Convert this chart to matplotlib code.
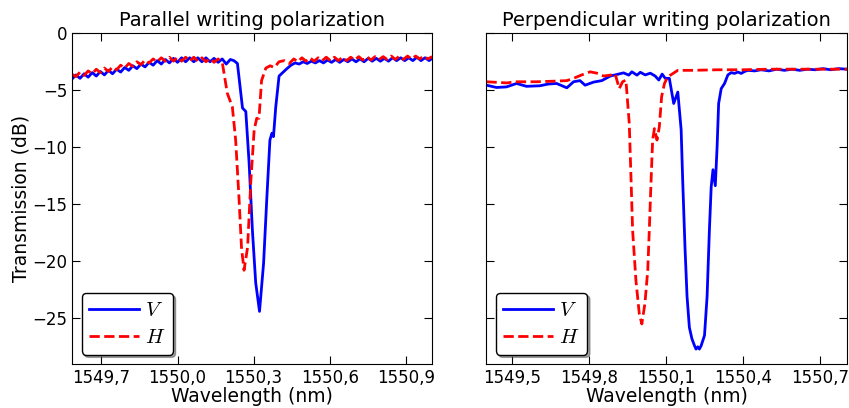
import matplotlib
matplotlib.use("Agg")
import matplotlib.pyplot as plt
from matplotlib.ticker import FuncFormatter

plt.rcParams['mathtext.fontset'] = 'cm'

# ---- parallel writing polarization ----
par_v_wl = [1549.585, 1549.600, 1549.616, 1549.632, 1549.648, 1549.664, 1549.680, 1549.696,
            1549.712, 1549.728, 1549.744, 1549.760, 1549.776, 1549.792, 1549.808, 1549.824,
            1549.840, 1549.856, 1549.872, 1549.888, 1549.904, 1549.920, 1549.936, 1549.952,
            1549.968, 1549.984, 1550.000, 1550.016, 1550.032, 1550.048, 1550.064, 1550.080,
            1550.096, 1550.112, 1550.128, 1550.144, 1550.160, 1550.176, 1550.192, 1550.208,
            1550.222, 1550.236, 1550.256, 1550.269, 1550.282, 1550.295, 1550.308, 1550.323,
            1550.339, 1550.352, 1550.364, 1550.372, 1550.378, 1550.387, 1550.400, 1550.419,
            1550.431, 1550.447, 1550.463, 1550.479, 1550.495, 1550.511, 1550.527, 1550.543,
            1550.559, 1550.575, 1550.591, 1550.607, 1550.623, 1550.639, 1550.655, 1550.671,
            1550.687, 1550.703, 1550.719, 1550.735, 1550.751, 1550.767, 1550.783, 1550.799,
            1550.815, 1550.831, 1550.847, 1550.863, 1550.879, 1550.895, 1550.911, 1550.927,
            1550.943, 1550.959, 1550.975, 1550.991, 1551.003]
par_v_db = [-4.05, -3.70, -4.00, -3.60, -3.90, -3.50, -3.80, -3.40,
            -3.70, -3.30, -3.60, -3.20, -3.45, -3.05, -3.30, -2.90,
            -3.15, -2.75, -3.00, -2.60, -2.85, -2.45, -2.75, -2.35,
            -2.65, -2.25, -2.60, -2.20, -2.55, -2.20, -2.55, -2.20,
            -2.55, -2.20, -2.55, -2.25, -2.60, -2.30, -2.75, -2.35,
            -2.45, -2.70, -6.60, -6.90, -11.4, -17.3, -21.9, -24.4,
            -20.2, -14.4, -9.40, -8.80, -9.10, -6.50, -3.80, -3.40,
            -3.15, -2.85, -2.65, -2.75, -2.55, -2.70, -2.50, -2.65,
            -2.45, -2.65, -2.40, -2.60, -2.35, -2.60, -2.35, -2.55,
            -2.30, -2.55, -2.30, -2.55, -2.25, -2.50, -2.25, -2.50,
            -2.25, -2.50, -2.20, -2.45, -2.20, -2.45, -2.20, -2.45,
            -2.15, -2.45, -2.20, -2.45, -2.25]

par_h_wl = [1549.585, 1549.600, 1549.616, 1549.632, 1549.648, 1549.664, 1549.680, 1549.696,
            1549.712, 1549.728, 1549.744, 1549.760, 1549.776, 1549.792, 1549.808, 1549.824,
            1549.840, 1549.856, 1549.872, 1549.888, 1549.904, 1549.920, 1549.936, 1549.952,
            1549.968, 1549.984, 1550.000, 1550.016, 1550.032, 1550.048, 1550.064, 1550.080,
            1550.096, 1550.112, 1550.128, 1550.144, 1550.160, 1550.177, 1550.196, 1550.216,
            1550.229, 1550.242, 1550.252, 1550.262, 1550.276, 1550.289, 1550.302, 1550.312,
            1550.321, 1550.331, 1550.348, 1550.365, 1550.381, 1550.400, 1550.420, 1550.440,
            1550.458, 1550.474, 1550.490, 1550.506, 1550.522, 1550.538, 1550.554, 1550.570,
            1550.586, 1550.602, 1550.618, 1550.634, 1550.650, 1550.666, 1550.682, 1550.698,
            1550.714, 1550.730, 1550.746, 1550.762, 1550.778, 1550.794, 1550.810, 1550.826,
            1550.842, 1550.858, 1550.874, 1550.890, 1550.906, 1550.922, 1550.938, 1550.954,
            1550.970, 1550.986, 1551.003]
par_h_db = [-3.65, -3.85, -3.45, -3.75, -3.35, -3.60, -3.20, -3.50,
            -3.10, -3.40, -3.00, -3.25, -2.85, -3.10, -2.70, -2.95,
            -2.55, -2.80, -2.40, -2.65, -2.30, -2.55, -2.20, -2.50,
            -2.15, -2.50, -2.15, -2.50, -2.15, -2.50, -2.15, -2.50,
            -2.20, -2.55, -2.25, -2.60, -2.30, -2.70, -5.30, -6.50,
            -9.40, -14.4, -18.8, -20.8, -18.8, -12.9, -8.50, -7.50,
            -7.50, -4.20, -3.10, -2.90, -3.05, -2.55, -2.45, -2.70,
            -2.30, -2.55, -2.20, -2.50, -2.20, -2.50, -2.20, -2.45,
            -2.15, -2.45, -2.15, -2.45, -2.15, -2.45, -2.15, -2.40,
            -2.10, -2.40, -2.10, -2.40, -2.10, -2.35, -2.10, -2.35,
            -2.05, -2.35, -2.05, -2.35, -2.05, -2.30, -2.05, -2.30,
            -2.05, -2.30, -2.10]

# ---- perpendicular writing polarization ----
perp_v_wl = [1549.400, 1549.439, 1549.478, 1549.517, 1549.556, 1549.608, 1549.641, 1549.673,
             1549.713, 1549.739, 1549.764, 1549.784, 1549.817, 1549.849, 1549.882, 1549.914,
             1549.934, 1549.954, 1549.966, 1549.986, 1549.999, 1550.018, 1550.038, 1550.057,
             1550.071, 1550.084, 1550.096, 1550.112, 1550.129, 1550.145, 1550.158, 1550.164,
             1550.173, 1550.181, 1550.190, 1550.200, 1550.210, 1550.216, 1550.223, 1550.229,
             1550.236, 1550.249, 1550.259, 1550.268, 1550.275, 1550.282, 1550.291, 1550.298,
             1550.304, 1550.314, 1550.327, 1550.340, 1550.353, 1550.366, 1550.379, 1550.392,
             1550.405, 1550.418, 1550.444, 1550.470, 1550.500, 1550.530, 1550.560, 1550.590,
             1550.620, 1550.650, 1550.680, 1550.710, 1550.740, 1550.770, 1550.805]
perp_v_db = [-4.60, -4.80, -4.75, -4.45, -4.70, -4.65, -4.50, -4.45,
             -4.83, -4.30, -4.20, -4.60, -4.33, -4.20, -3.80, -3.63,
             -3.52, -3.72, -3.43, -3.72, -3.47, -3.70, -3.55, -3.80,
             -4.15, -3.63, -4.00, -4.00, -6.20, -5.20, -8.50, -12.9,
             -18.8, -23.1, -25.8, -26.8, -27.4, -27.7, -27.5, -27.7,
             -27.4, -26.5, -23.1, -17.3, -13.5, -12.0, -13.4, -10.0,
             -6.20, -4.90, -4.45, -3.70, -3.50, -3.57, -3.45, -3.57,
             -3.40, -3.30, -3.35, -3.25, -3.35, -3.20, -3.30, -3.20,
             -3.30, -3.20, -3.25, -3.15, -3.25, -3.15, -3.20]

perp_h_wl = [1549.400, 1549.478, 1549.517, 1549.595, 1549.661, 1549.713, 1549.739, 1549.771,
             1549.804, 1549.830, 1549.856, 1549.888, 1549.901, 1549.917, 1549.930, 1549.943,
             1549.956, 1549.963, 1549.969, 1549.982, 1549.995, 1550.005, 1550.017, 1550.028,
             1550.034, 1550.041, 1550.047, 1550.054, 1550.064, 1550.073, 1550.082, 1550.093,
             1550.106, 1550.145, 1550.200, 1550.300, 1550.400, 1550.500, 1550.600, 1550.700,
             1550.805]
perp_h_db = [-4.30, -4.40, -4.30, -4.30, -4.25, -4.20, -4.00, -3.70,
             -3.43, -3.55, -3.80, -3.70, -3.60, -4.90, -4.30, -4.15,
             -7.95, -12.9, -17.3, -21.7, -24.6, -25.5, -23.7, -20.8,
             -17.3, -12.9, -9.40, -8.40, -9.40, -8.25, -5.60, -4.45,
             -3.87, -3.30, -3.30, -3.25, -3.25, -3.20, -3.20, -3.20,
             -3.20]

panels = [
    ("Parallel writing polarization", par_v_wl, par_v_db, par_h_wl, par_h_db,
     (1549.585, 1551.003), [1549.7, 1550.0, 1550.3, 1550.6, 1550.9]),
    ("Perpendicular writing polarization", perp_v_wl, perp_v_db, perp_h_wl, perp_h_db,
     (1549.4, 1550.805), [1549.5, 1549.8, 1550.1, 1550.4, 1550.7]),
]

fig = plt.figure(figsize=(8.49, 4.08), dpi=100)
axes = [fig.add_axes([0.085, 0.108, 0.424, 0.812]),
        fig.add_axes([0.573, 0.108, 0.425, 0.812])]

comma = FuncFormatter(lambda v, p: f"{v:.1f}".replace('.', ','))

for i, (ax, (title, vx, vy, hx, hy, xlim, xt)) in enumerate(zip(axes, panels)):
    ax.plot(vx, vy, 'b-', lw=2, label='$V$')
    ax.plot(hx, hy, 'r--', lw=2, label='$H$')
    ax.set_xlim(*xlim)
    ax.set_ylim(-29, 0)
    ax.set_xticks(xt)
    ax.set_yticks([0, -5, -10, -15, -20, -25])
    ax.xaxis.set_major_formatter(comma)
    ax.tick_params(direction='in', top=True, right=True, length=6, labelsize=12)
    ax.set_title(title, fontsize=14, pad=5)
    ax.set_xlabel('Wavelength (nm)', fontsize=13.5, labelpad=0)
    if i == 0:
        ax.set_ylabel('Transmission (dB)', fontsize=13.5, labelpad=1)
    else:
        ax.tick_params(labelleft=False)
    leg = ax.legend(loc='lower left', fancybox=True, shadow=True, fontsize=15,
                    handlelength=2.4, handletextpad=0.3, borderaxespad=0.45,
                    labelspacing=0.35, borderpad=0.35)
    leg.get_frame().set_edgecolor('black')

fig.savefig('out.png', dpi=100)
